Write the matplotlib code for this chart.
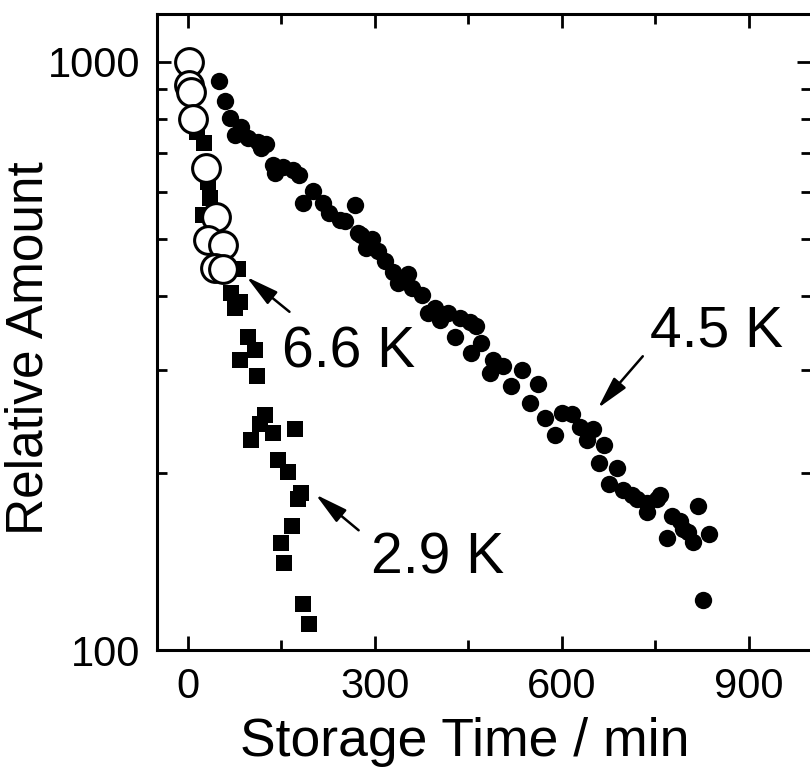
import matplotlib
matplotlib.use('Agg')
import matplotlib.pyplot as plt
from matplotlib.ticker import FixedLocator, FixedFormatter, NullFormatter

plt.rcParams['font.family'] = ['Liberation Sans', 'DejaVu Sans']

# 6.6 K - open circles
t66 = [2, 2, 5, 8, 29, 45, 32, 56, 43, 56]
a66 = [1000, 913, 889, 798, 659, 545, 498, 488, 446, 444]

# 2.9 K - filled squares
t29 = [15, 26, 32, 35, 24, 69, 83, 75, 80, 96, 107, 84, 111, 123, 115, 136, 102,
       172, 144, 160, 182, 176, 167, 149, 154, 184, 194]
a29 = [760, 728, 625, 587, 549, 404, 391, 381, 444, 341, 324, 311, 293, 251, 242,
       234, 228, 238, 211, 201, 185, 181, 163, 152, 141, 120, 111]

# 4.5 K - filled circles
t45 = [50, 59, 67, 75, 86, 96, 112, 118, 126, 136, 139, 152, 168, 179, 185, 201,
       217, 227, 244, 252, 268, 273, 277, 286, 295, 305, 317, 329, 337, 353, 359,
       375, 385, 396, 404, 418, 429, 436, 452, 455, 463, 471, 485, 490, 506, 519,
       536, 549, 562, 573, 589, 600, 616, 629, 640, 650, 659, 668, 675, 688, 699,
       712, 720, 736, 736, 752, 758, 769, 777, 790, 795, 803, 811, 819, 827, 836]
a45 = [928, 858, 801, 751, 774, 741, 731, 713, 725, 668, 646, 663, 655, 642, 575,
       602, 575, 553, 538, 537, 572, 511, 507, 482, 500, 476, 459, 440, 421, 436,
       412, 402, 374, 381, 364, 374, 341, 367, 362, 320, 355, 333, 296, 311, 304,
       281, 300, 263, 283, 248, 232, 253, 252, 240, 228, 238, 208, 223, 192, 204,
       187, 184, 181, 178, 172, 181, 184, 155, 169, 166, 161, 159, 153, 176, 122,
       158]

fig = plt.figure(figsize=(8.1, 7.72), dpi=100)
ax = fig.add_axes([0.1935, 0.1574, 0.8078, 0.8245])

ax.plot(t29, a29, 's', color='k', ms=11.5, mew=0)
ax.plot(t45, a45, 'o', color='k', ms=12.5, mew=0)
ax.plot(t66, a66, 'o', mfc='white', mec='k', ms=20, mew=2.2)

ax.set_yscale('log')
ax.set_xlim(-50, 1000)
ax.set_ylim(100, 1205)

ax.xaxis.set_major_locator(FixedLocator([0, 300, 600, 900]))
ax.xaxis.set_minor_locator(FixedLocator([150, 450, 750]))
ax.yaxis.set_major_locator(FixedLocator([100, 1000]))
ax.yaxis.set_major_formatter(FixedFormatter(['100', '1000']))
ax.yaxis.set_minor_locator(FixedLocator([200, 300, 400, 500, 600, 700, 800, 900]))
ax.yaxis.set_minor_formatter(NullFormatter())

ax.tick_params(which='both', direction='in', top=True, right=True, width=2)
ax.tick_params(which='major', length=10, labelsize=30, pad=12)
ax.tick_params(which='minor', length=7)
for s in ax.spines.values():
    s.set_linewidth(2.2)

ax.set_xlabel('Storage Time / min', fontsize=38.5)
ax.xaxis.set_label_coords(0.471, -0.105)
ax.set_ylabel('Relative Amount', fontsize=37)
ax.yaxis.set_label_coords(-0.158, 0.475)

arrow = dict(arrowstyle='-|>,head_length=0.9,head_width=0.22', color='k', lw=1.8,
             mutation_scale=22, shrinkA=0, shrinkB=0)
ax.annotate('', xy=(94, 431), xytext=(163, 376), arrowprops=arrow)
ax.text(151, 302, '6.6 K', fontsize=41, ha='left', va='baseline')
ax.annotate('', xy=(205, 184), xytext=(274, 160), arrowprops=arrow)
ax.text(294, 135, '2.9 K', fontsize=41, ha='left', va='baseline')
ax.annotate('', xy=(658, 258), xytext=(730, 316), arrowprops=arrow)
ax.text(742, 328, '4.5 K', fontsize=41, ha='left', va='baseline')

fig.savefig('out.png', dpi=100)
